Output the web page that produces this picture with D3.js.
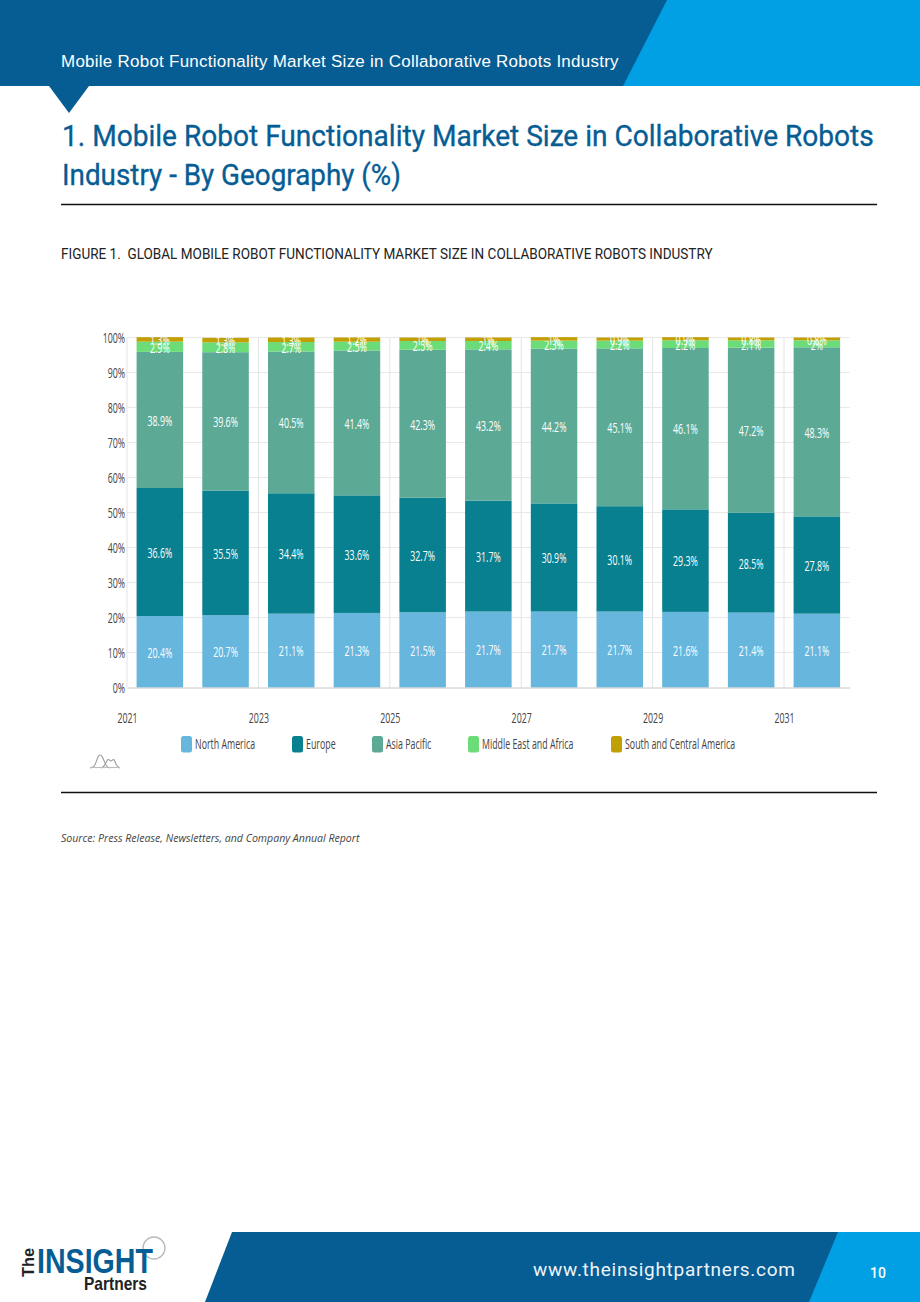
<!DOCTYPE html>
<html>
<head>
<meta charset="utf-8">
<script src="https://cdnjs.cloudflare.com/ajax/libs/d3/7.8.5/d3.min.js"></script>
<style>
  html, body { margin: 0; padding: 0; background: #fff; }
  svg { display: block; }
  text { white-space: pre; }
</style>
</head>
<body>
<svg id="page" width="920" height="1302"></svg>
<script>
// Chart data: share of market size by region and year (%)
const years = [2021, 2022, 2023, 2024, 2025, 2026, 2027, 2028, 2029, 2030, 2031];
const regions = ["North America", "Europe", "Asia Pacific", "Middle East and Africa", "South and Central America"];
const northAmerica = [20.4, 20.7, 21.1, 21.3, 21.5, 21.7, 21.7, 21.7, 21.6, 21.4, 21.1];
const europe = [36.6, 35.5, 34.4, 33.6, 32.7, 31.7, 30.9, 30.1, 29.3, 28.5, 27.8];
const asiaPacific = [38.9, 39.6, 40.5, 41.4, 42.3, 43.2, 44.2, 45.1, 46.1, 47.2, 48.3];
const middleEastAfrica = [2.9, 2.8, 2.7, 2.5, 2.5, 2.4, 2.3, 2.2, 2.2, 2.1, 2];
const southCentralAmerica = [1.3, 1.3, 1.3, 1.2, 1, 1, 1, 0.9, 0.9, 0.8, 0.8];
const yearTicks = [2021, 2023, 2025, 2027, 2029, 2031];
const percentTicks = [0, 10, 20, 30, 40, 50, 60, 70, 80, 90, 100];
const regionColors = ["#66b6de", "#08808f", "#5caa96", "#6cdc78", "#c1a006"];

const headingText = "Mobile Robot Functionality Market Size in Collaborative Robots Industry";
const titleLines = ["1. Mobile Robot Functionality Market Size in Collaborative Robots", "Industry - By Geography (%)"];
const figureCaption = "FIGURE 1.  GLOBAL MOBILE ROBOT FUNCTIONALITY MARKET SIZE IN COLLABORATIVE ROBOTS INDUSTRY";
const sourceNote = "Source: Press Release, Newsletters, and Company Annual Report";

const DARK_BLUE = "#065d94", LIGHT_BLUE = "#019fe3";
const svg = d3.select("#page");
const poly = pts => "M" + pts.map(p => p.join(",")).join("L") + "Z";

// Squeezes or widens a text about its start point so it spans the given width
function fitWidth(sel, x, y, width) {
  const natural = sel.node().getComputedTextLength();
  sel.attr("transform", `translate(${x},${y}) scale(${width / natural},1)`);
  return sel;
}

// Page furniture: header band, pointer, rules, footer
svg.append("rect").attr("width", 920).attr("height", 86).attr("fill", LIGHT_BLUE);
svg.append("path").attr("d", poly([[0, 0], [667, 0], [623, 86], [0, 86]])).attr("fill", DARK_BLUE);
svg.append("path").attr("d", poly([[49, 86], [89, 86], [69, 113]])).attr("fill", DARK_BLUE);
fitWidth(svg.append("text").text(headingText)
  .attr("fill", "#fff").attr("font-family", "'Liberation Sans', sans-serif")
  .attr("font-size", 16.5).attr("letter-spacing", 0.25), 61, 67, 558);

titleLines.forEach((line, i) => {
  fitWidth(svg.append("text").text(line)
    .attr("fill", DARK_BLUE).attr("stroke", DARK_BLUE).attr("stroke-width", 0.35)
    .attr("font-family", "Roboto, sans-serif").attr("font-size", 30), 62, 146 + i * 39, i === 0 ? 812 : 339);
});

[204.5, 792.5].forEach(y => svg.append("line")
  .attr("x1", 61).attr("x2", 877).attr("y1", y).attr("y2", y)
  .attr("stroke", "#111").attr("stroke-width", 1.4));

fitWidth(svg.append("text").text(figureCaption)
  .attr("fill", "#222").attr("font-family", "Roboto, sans-serif").attr("font-size", 14), 61, 259, 652);

fitWidth(svg.append("text").text(sourceNote)
  .attr("fill", "#444").attr("font-style", "italic")
  .attr("font-family", "'Open Sans', sans-serif").attr("font-size", 10), 61, 842, 299);

svg.append("path").attr("d", poly([[232, 1232], [920, 1232], [920, 1302], [205, 1302]])).attr("fill", DARK_BLUE);
svg.append("path").attr("d", poly([[838, 1232], [920, 1232], [920, 1302], [809, 1302]])).attr("fill", LIGHT_BLUE);
svg.append("text").text("www.theinsightpartners.com")
  .attr("x", 533).attr("y", 1276).attr("fill", "#eef3f8")
  .attr("font-family", "Roboto, sans-serif").attr("font-size", 19)
  .attr("textLength", 262).attr("lengthAdjust", "spacing");
svg.append("text").text("10")
  .attr("x", 878).attr("y", 1278).attr("fill", "#fff").attr("text-anchor", "middle")
  .attr("font-family", "Roboto, sans-serif").attr("font-size", 14).attr("font-weight", 500);

// Company wordmark in the footer
const logo = svg.append("g").attr("font-family", "'Liberation Sans', sans-serif");
logo.append("circle").attr("cx", 154).attr("cy", 1248).attr("r", 11)
  .attr("fill", "none").attr("stroke", "#b9bcbf").attr("stroke-width", 1.4);
fitWidth(logo.append("text").text("INSIGHT")
  .attr("fill", DARK_BLUE).attr("font-weight", 700).attr("font-size", 35), 37, 1273, 116);
logo.append("text").text("The")
  .attr("transform", "translate(34,1277) rotate(-90)").attr("fill", "#222")
  .attr("font-weight", 700).attr("font-size", 17)
  .attr("textLength", 29).attr("lengthAdjust", "spacingAndGlyphs");
fitWidth(logo.append("text").text("Partners")
  .attr("fill", "#222").attr("font-weight", 700).attr("font-size", 18), 84, 1290, 63);

// Stacked bars
const plot = { left: 127, right: 849.7, top: 337.5, bottom: 687.5 };
const NARROW = "scale(0.64,1)";
const CHART_FONT = "'Open Sans', sans-serif";
const CHART_FONT_SIZE = 13.8;

const x = d3.scaleBand().domain(years).range([plot.left, plot.right])
  .paddingInner(0.292).paddingOuter(0.146);
const xTick = d3.scaleLinear().domain([2021, 2032]).range([plot.left, plot.right]);
const y = d3.scaleLinear().domain([0, 100]).range([plot.bottom, plot.top]);

const chart = svg.append("g");

// Gridlines
chart.append("g").selectAll("line").data(percentTicks.slice(1)).join("line")
  .attr("x1", plot.left).attr("x2", plot.right)
  .attr("y1", d => y(d)).attr("y2", d => y(d))
  .attr("stroke", "#e8e8e8").attr("stroke-width", 1);
chart.append("g").selectAll("line").data(yearTicks).join("line")
  .attr("x1", d => xTick(d)).attr("x2", d => xTick(d))
  .attr("y1", plot.top).attr("y2", plot.bottom)
  .attr("stroke", "#e4e4e4").attr("stroke-width", 1);

const rows = years.map((year, i) => ({
  year,
  [regions[0]]: northAmerica[i],
  [regions[1]]: europe[i],
  [regions[2]]: asiaPacific[i],
  [regions[3]]: middleEastAfrica[i],
  [regions[4]]: southCentralAmerica[i]
}));
const series = d3.stack().keys(regions)(rows);

const layers = chart.append("g").selectAll("g").data(series).join("g")
  .attr("fill", (d, i) => regionColors[i]);
layers.selectAll("rect").data(d => d).join("rect")
  .attr("x", d => x(d.data.year))
  .attr("width", x.bandwidth())
  .attr("y", d => y(d[1]))
  .attr("height", d => y(d[0]) - y(d[1]));

// Axes
const xAxis = chart.append("g").attr("transform", `translate(0,${plot.bottom})`)
  .call(d3.axisBottom(xTick).tickValues(yearTicks).tickFormat(d3.format("d")).tickSize(0).tickPadding(26));
const yAxis = chart.append("g").attr("transform", `translate(${plot.left},0)`)
  .call(d3.axisLeft(y).tickValues(percentTicks).tickFormat(d => d + "%").tickSize(0).tickPadding(3));
xAxis.select(".domain").attr("stroke", "#c8c8c8");
yAxis.select(".domain").remove();
xAxis.selectAll("text").attr("transform", NARROW);
yAxis.selectAll("text").attr("transform", `translate(0,1) ${NARROW}`);
[xAxis, yAxis].forEach(axis => axis.selectAll("text")
  .attr("fill", "#444").attr("font-family", CHART_FONT).attr("font-size", CHART_FONT_SIZE));

// Value labels centred in each segment
layers.each(function (s) {
  d3.select(this).selectAll("text").data(s).join("text")
    .text(d => +(d[1] - d[0]).toFixed(1) + "%")
    .attr("transform", d => `translate(${x(d.data.year) + x.bandwidth() / 2},${y((d[0] + d[1]) / 2) + 5.8}) ${NARROW}`)
    .attr("text-anchor", "middle").attr("fill", "#fff")
    .attr("font-family", CHART_FONT).attr("font-size", CHART_FONT_SIZE);
});

// Legend
const legendX = d3.scaleOrdinal().domain(regions).range([181, 292, 372, 468, 611]);
const legend = chart.append("g").selectAll("g").data(regions).join("g")
  .attr("transform", d => `translate(${legendX(d)},736)`);
legend.append("rect").attr("width", 11).attr("height", 16.5).attr("rx", 2.5)
  .attr("fill", (d, i) => regionColors[i]);
legend.append("text").text(d => d)
  .attr("transform", `translate(14,13) ${NARROW}`)
  .attr("fill", "#444").attr("font-family", CHART_FONT).attr("font-size", CHART_FONT_SIZE);

// Small twin-peak mark below the legend
const peakLine = d3.line().curve(d3.curveBasis);
const peaks = chart.append("g").attr("fill", "none").attr("stroke", "#9c9c9c").attr("stroke-width", 1.1);
peaks.append("path").attr("d", peakLine([[90, 768], [95, 767], [98, 755], [102, 754], [106, 767], [110, 768]]));
peaks.append("path").attr("d", peakLine([[101, 768], [105, 766], [108, 757], [111, 763], [114, 757], [116, 766], [120, 768]]));
peaks.append("line").attr("x1", 90).attr("x2", 120).attr("y1", 767.5).attr("y2", 767.5).attr("stroke", "#bcbcbc");
</script>
</body>
</html>
